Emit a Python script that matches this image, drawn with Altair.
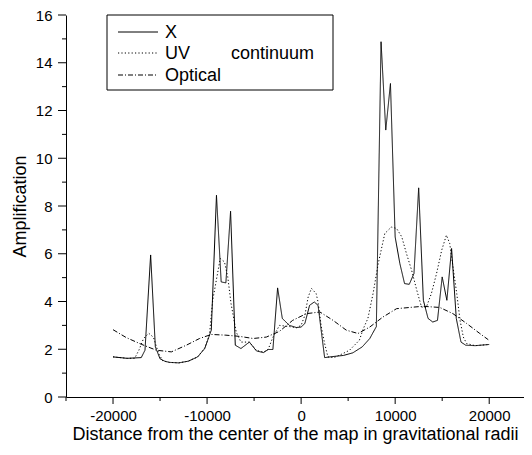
import altair as alt
import pandas as pd

# ---- data ----
x_X = [-20000, -18500, -17000, -16600, -16000, -15500, -15000, -14500, -14000, -13000,
       -12000, -11000, -10250, -9550, -9000, -8500, -8000, -7500, -7000, -6400,
       -5500, -4750, -4000, -3500, -3000, -2500, -2000, -1250, -500, 0,
       400, 900, 1400, 1800, 2500, 3500, 4500, 5500, 6500, 7300,
       8000, 8500, 9000, 9500, 10000, 10500, 11000, 11500, 12000, 12500,
       13000, 13500, 14000, 14500, 15000, 15500, 16000, 16500, 17000, 17500,
       18500, 20000]
y_X = [1.68, 1.62, 1.65, 1.96, 5.95, 2.10, 1.60, 1.50, 1.45, 1.43,
       1.50, 1.68, 2.03, 2.80, 8.45, 4.82, 4.78, 7.78, 2.17, 2.03,
       2.30, 1.93, 1.86, 1.99, 1.99, 4.57, 3.29, 3.00, 2.91, 2.93,
       3.08, 3.84, 3.98, 3.84, 1.65, 1.70, 1.74, 1.85, 2.10, 2.45,
       2.95, 14.88, 11.18, 13.13, 6.70, 5.59, 4.75, 4.72, 5.17, 8.76,
       4.05, 3.29, 3.14, 3.21, 5.03, 4.05, 6.22, 3.29, 2.30, 2.17,
       2.15, 2.20]

x_UV = [-20000, -18500, -17700, -17250, -16750, -16200, -15700, -15150, -14700, -14000,
        -13000, -12000, -11000, -10250, -9750, -9400, -8600, -8150, -7800, -7450,
        -6900, -6400, -5500, -4750, -4000, -3500, -3000, -2300, -1250, -500,
        0, 400, 750, 1100, 1600, 1800, 2150, 2500, 2850, 3500,
        4450, 5150, 6200, 6600, 7100, 7650, 8200, 8900, 9600, 10150,
        10700, 11200, 11750, 12300, 12800, 13300, 13850, 14400, 14950, 15450,
        15800, 16150, 16550, 16900, 17250, 17600, 18500, 20000]
y_UV = [1.68, 1.62, 1.62, 1.96, 2.45, 2.67, 2.50, 1.82, 1.51, 1.45,
        1.43, 1.50, 1.68, 2.05, 2.59, 4.05, 5.80, 5.66, 5.03, 3.91,
        2.72, 2.30, 2.30, 1.95, 1.88, 2.00, 2.50, 3.00, 2.95, 2.90,
        3.00, 3.42, 4.19, 4.55, 4.33, 3.98, 2.93, 2.24, 1.68, 1.65,
        1.82, 1.96, 2.38, 2.85, 3.29, 4.33, 5.59, 6.85, 7.12, 7.06,
        6.71, 6.01, 5.31, 4.47, 3.77, 3.75, 4.33, 5.17, 6.15, 6.78,
        6.43, 5.45, 4.33, 3.21, 2.51, 2.24, 2.15, 2.20]

x_opt = [-20000, -18600, -17000, -15400, -13800, -12200, -10800, -9550, -8000, -6550,
         -5100, -3700, -2300, -900, 550, 2000, 3400, 4800, 6050, 7300,
         8700, 10150, 11550, 12950, 14750, 16150, 17600, 19000, 19900]
y_opt = [2.82, 2.49, 2.21, 1.96, 1.89, 2.17, 2.45, 2.62, 2.59, 2.54,
         2.45, 2.51, 2.75, 3.21, 3.49, 3.56, 3.21, 2.80, 2.66, 2.93,
         3.35, 3.70, 3.75, 3.80, 3.75, 3.49, 3.08, 2.66, 2.40]

series_names = ["X", "UV", "Optical"]
legend_extra = "continuum"
x_major = [-20000, -10000, 0, 10000, 20000]
x_minor = [-25000, -15000, -5000, 5000, 15000]
y_major = [0, 2, 4, 6, 8, 10, 12, 14, 16]
y_minor = [1, 3, 5, 7, 9, 11, 13, 15]

FONT = "Liberation Sans"
W, H = 458, 382

frames = []
for name, xs, ys in [("X", x_X, y_X), ("UV", x_UV, y_UV), ("Optical", x_opt, y_opt)]:
    frames.append(pd.DataFrame({"x": xs, "y": ys, "series": name}))
df = pd.concat(frames, ignore_index=True)

dashes = [[1, 0], [1.2, 2.2], [5, 2, 1, 2]]

x_scale = alt.Scale(domain=[-25000, 23700], nice=False, zero=False)
y_scale = alt.Scale(domain=[0, 16], nice=False)

lines = alt.Chart(df).mark_line(color="black", strokeWidth=1).encode(
    x=alt.X("x:Q", scale=x_scale,
            axis=alt.Axis(values=x_major, orient="bottom",
                          title="Distance from the center of the map in gravitational radii",
                          labelExpr="'' + datum.value", ticks=False,
                          labelOverlap=False, labelFlush=False, grid=False,
                          labelPadding=11, titlePadding=2)),
    y=alt.Y("y:Q", scale=y_scale,
            axis=alt.Axis(values=y_major, orient="left", title="Amplification",
                          labelExpr="'' + datum.value", ticks=False,
                          labelOverlap=False, grid=False, labelPadding=14, titlePadding=6)),
    strokeDash=alt.StrokeDash("series:N", scale=alt.Scale(domain=series_names, range=dashes), legend=None),
    detail="series:N",
)

# ---- tick marks, placed through the scales ----
def xticks(vals, length):
    return alt.Chart(pd.DataFrame({"v": vals})).mark_rule(color="black", strokeWidth=1, clip=False).encode(
        x=alt.X("v:Q", scale=x_scale), y=alt.value(H), y2=alt.value(H + length)
    )

def yticks(vals, length):
    return alt.Chart(pd.DataFrame({"v": vals})).mark_rule(color="black", strokeWidth=1, clip=False).encode(
        y=alt.Y("v:Q", scale=y_scale), x=alt.value(0), x2=alt.value(-length)
    )

tick_layers = [xticks(x_major, 7), xticks(x_minor, 4), yticks(y_major, 8), yticks(y_minor, 4)]

# ---- legend box (decoration) ----
box = alt.Chart(pd.DataFrame({"a": [0]})).mark_rect(fill="white", stroke="black", strokeWidth=1).encode(
    x=alt.value(41), x2=alt.value(267), y=alt.value(0), y2=alt.value(75)
)
row_y = [17, 38, 60]
legend_layers = [box]
for i, name in enumerate(series_names):
    legend_layers.append(
        alt.Chart(pd.DataFrame({"a": [0]})).mark_rule(color="black", strokeWidth=1, strokeDash=dashes[i]).encode(
            x=alt.value(52), x2=alt.value(92), y=alt.value(row_y[i])
        )
    )
    legend_layers.append(
        alt.Chart(pd.DataFrame({"t": [name]})).mark_text(align="left", baseline="middle", font=FONT,
                                                         fontSize=18, color="black").encode(
            x=alt.value(99), y=alt.value(row_y[i] + 1), text="t:N"
        )
    )
legend_layers.append(
    alt.Chart(pd.DataFrame({"t": [legend_extra]})).mark_text(align="left", baseline="middle", font=FONT,
                                                             fontSize=18, color="black").encode(
        x=alt.value(165), y=alt.value(row_y[1] + 1), text="t:N"
    )
)

chart = alt.layer(lines, *tick_layers, *legend_layers).properties(
    width=W, height=H,
    autosize=alt.AutoSizeParams(type="none"),
    padding={"left": 58, "top": 7, "right": 0, "bottom": 50},
).configure_view(stroke=None).configure_axis(
    domainColor="black", labelColor="black", titleColor="black",
    labelFont=FONT, titleFont=FONT, labelFontSize=15, titleFontSize=18, titleFontWeight="normal",
    domainWidth=1,
)

chart.save("out.html", embed_options={"renderer": "svg", "actions": False})
